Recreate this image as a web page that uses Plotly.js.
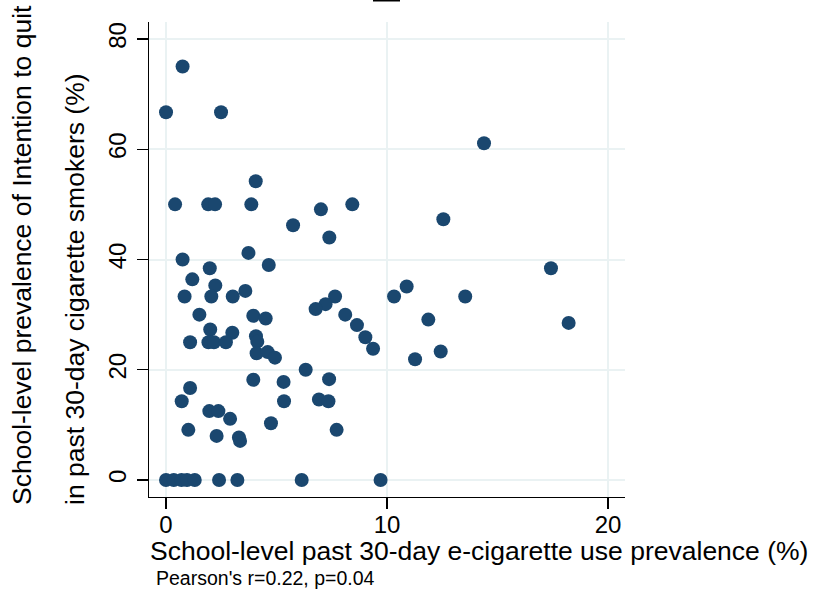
<!DOCTYPE html>
<html>
<head>
<meta charset="utf-8">
<script src="https://cdn.plot.ly/plotly-3.0.1.min.js"></script>
<style>html,body{margin:0;padding:0;background:#fff;}#chart{width:814px;height:599px;}</style>
</head>
<body>
<div id="chart"></div>
<script>
// School-level past 30-day e-cigarette use prevalence (%)
const ecigPrev = [
  0.75, 0.0, 2.49, 4.06, 0.41, 1.91, 2.22, 3.86, 7.01, 8.43,
  5.75, 7.39, 3.73, 0.75, 4.65, 1.98, 1.19, 2.23, 3.59, 0.84,
  2.05, 3.02, 7.65, 7.22, 6.77, 1.51, 3.95, 4.51, 8.11, 8.64,
  9.02, 9.37, 2.0, 3.0, 4.07, 4.13, 1.09, 1.92, 2.17, 2.71,
  4.10, 4.60, 4.93, 6.32, 3.95, 5.32, 7.38, 1.09, 0.71, 5.34,
  6.92, 7.35, 1.96, 2.37, 2.9, 4.75, 1.01, 7.72, 2.29, 3.3,
  3.35, 0.0, 0.35, 0.7, 0.95, 1.3, 2.4, 3.23, 6.14, 9.71,
  14.39, 12.55, 17.42, 10.89, 10.32, 13.54, 11.87, 18.22, 12.43, 11.27
];
// School-level prevalence of intention to quit among past 30-day cigarette smokers (%)
const quitPrev = [
  75.0, 66.7, 66.7, 54.2, 50.0, 50.0, 50.0, 50.0, 49.1, 50.0,
  46.2, 44.0, 41.2, 40.0, 39.0, 38.4, 36.4, 35.3, 34.3, 33.3,
  33.3, 33.3, 33.3, 31.9, 31.0, 30.0, 29.8, 29.3, 30.0, 28.1,
  25.9, 23.8, 27.3, 26.7, 26.1, 25.1, 25.0, 25.0, 25.0, 25.0,
  23.0, 23.2, 22.2, 20.0, 18.2, 17.8, 18.3, 16.7, 14.3, 14.3,
  14.6, 14.3, 12.5, 12.5, 11.1, 10.3, 9.1, 9.1, 8.0, 7.7,
  7.1, 0, 0, 0, 0, 0, 0, 0, 0, 0,
  61.1, 47.3, 38.4, 35.1, 33.3, 33.3, 29.1, 28.5, 23.3, 21.9
];
const xTicks = [0, 10, 20];
const yTicks = [0, 20, 40, 60, 80];

const xTitle = "School-level past 30-day e-cigarette use prevalence (%)";
const yTitle1 = "School-level prevalence of Intention to quit";
const yTitle2 = "in past 30-day cigarette smokers (%)";
const note = "Pearson's r=0.22, p=0.04";

const FONT = "Liberation Sans, Arial, Helvetica, sans-serif";
const navy = "#1a476f";
const grid = "#eaf2f3";

const W = 814, H = 599;
const L = 149, R = 189, T = 22, B = 102;
const pw = W - L - R, ph = H - T - B;
const px = v => (v - L) / pw;          // page x -> paper x
const py = v => (H - B - v) / ph;      // page y -> paper y

const trace = {
  type: "scatter", mode: "markers",
  x: ecigPrev, y: quitPrev,
  marker: {color: navy, size: 14, line: {width: 0}},
  hoverinfo: "skip", showlegend: false
};

const layout = {
  width: W, height: H,
  margin: {l: L, r: R, t: T, b: B, pad: 0},
  paper_bgcolor: "#fff", plot_bgcolor: "#fff",
  font: {family: FONT, color: "#000", size: 24},
  xaxis: {
    range: [-0.77, 20.77], tickvals: xTicks, ticktext: xTicks.map(String),
    showgrid: true, gridcolor: grid, gridwidth: 2, zeroline: false,
    showline: true, linecolor: "#000", linewidth: 1.2,
    ticks: "outside", ticklen: 11, tickwidth: 1.2, tickcolor: "#000",
    tickfont: {family: FONT, size: 24, color: "#000"},
    ticklabelstandoff: -5
  },
  yaxis: {
    range: [-3.08, 83.08], tickvals: yTicks, ticktext: yTicks.map(String),
    showgrid: true, gridcolor: grid, gridwidth: 2, zeroline: false,
    showline: true, linecolor: "#000", linewidth: 1.2,
    ticks: "outside", ticklen: 11, tickwidth: 1.2, tickcolor: "#000",
    tickangle: -90,
    tickfont: {family: FONT, size: 24, color: "#000"},
    ticklabelstandoff: 1
  },
  annotations: [
    {text: xTitle, xref: "paper", yref: "paper", x: px(148), y: py(551),
     xanchor: "left", yanchor: "middle", showarrow: false,
     font: {family: FONT, size: 26.5, color: "#000"}},
    {text: note, xref: "paper", yref: "paper", x: px(154), y: py(578),
     xanchor: "left", yanchor: "middle", showarrow: false,
     font: {family: FONT, size: 19.5, color: "#000"}},
    {text: yTitle1, xref: "paper", yref: "paper", x: px(22), y: py(507),
     xanchor: "center", yanchor: "bottom", textangle: -90, showarrow: false,
     font: {family: FONT, size: 26.5, color: "#000"}},
    {text: yTitle2, xref: "paper", yref: "paper", x: px(75), y: py(507),
     xanchor: "center", yanchor: "bottom", textangle: -90, showarrow: false,
     font: {family: FONT, size: 26.5, color: "#000"}}
  ],
  shapes: [
    {type: "rect", xref: "paper", yref: "paper", x0: px(373), x1: px(400),
     y0: py(1.5), y1: py(0), fillcolor: "#000", line: {width: 0}, layer: "above"}
  ]
};

Plotly.newPlot("chart", [trace], layout, {displayModeBar: false, staticPlot: true});
</script>
</body>
</html>
